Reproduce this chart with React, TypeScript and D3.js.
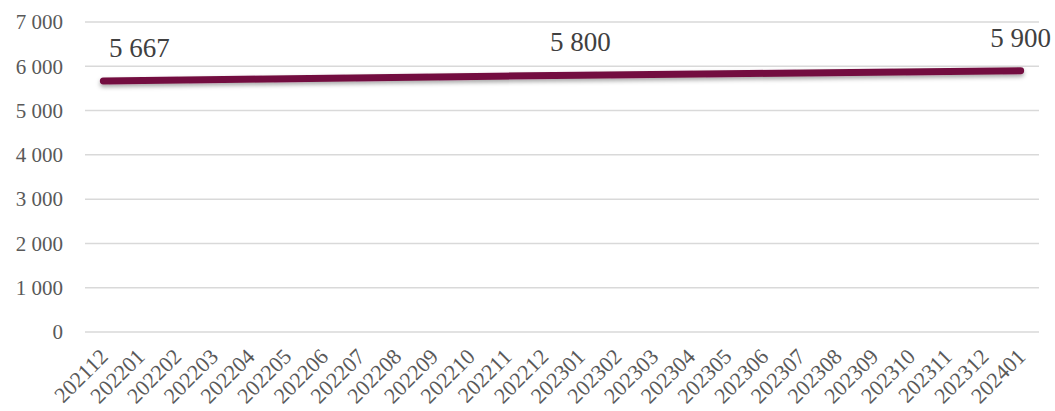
import React from "react";
import * as d3 from "d3";

const categories: string[] = [
  "202112", "202201", "202202", "202203", "202204", "202205", "202206",
  "202207", "202208", "202209", "202210", "202211", "202212", "202301",
  "202302", "202303", "202304", "202305", "202306", "202307", "202308",
  "202309", "202310", "202311", "202312", "202401",
];

// Only three months carry a value; the line connects across empty months.
const values: (number | null)[] = [
  5667, null, null, null, null, null, null, null, null, null, null, null, null,
  5800, null, null, null, null, null, null, null, null, null, null, null, 5900,
];

const yTicks: number[] = [0, 1000, 2000, 3000, 4000, 5000, 6000, 7000];

const W = 1055;
const H = 411;
const margin = { left: 85, right: 16, top: 22, bottom: 79 };
const labelShift: Record<string, number> = { "202112": 36 };

const fmt = (v: number) => d3.format(",")(v).replace(/,/g, " ");

export default function App() {
  const x = d3
    .scaleBand<string>()
    .domain(categories)
    .range([margin.left, W - margin.right]);
  const y = d3
    .scaleLinear()
    .domain([0, 7000])
    .range([H - margin.bottom, margin.top]);

  const pts = categories
    .map((c, i) => ({ c, v: values[i] }))
    .filter((d) => d.v !== null) as { c: string; v: number }[];

  const cx = (c: string) => (x(c) as number) + x.bandwidth() / 2;
  const line = d3
    .line<{ c: string; v: number }>()
    .x((d) => cx(d.c))
    .y((d) => y(d.v));

  const font = "'Liberation Serif', serif";

  return (
    <svg
      width={W}
      height={H}
      style={{ position: "absolute", left: 0, top: 0, background: "#fff" }}
    >
      <defs>
        <filter id="sh" x="-5%" y="-100%" width="110%" height="300%">
          <feDropShadow dx="0" dy="2.5" stdDeviation="2" floodColor="#000" floodOpacity="0.35" />
        </filter>
      </defs>
      {yTicks.map((t) => (
        <g key={t}>
          <line
            x1={margin.left}
            x2={W - margin.right}
            y1={y(t)}
            y2={y(t)}
            stroke="#d9d9d9"
            strokeWidth={1.5}
          />
          <text
            x={63}
            y={y(t)}
            dy="0.35em"
            textAnchor="end"
            fontFamily={font}
            fontSize={21}
            fill="#595959"
          >
            {fmt(t)}
          </text>
        </g>
      ))}
      {categories.map((c) => (
        <text
          key={c}
          transform={`translate(${cx(c) + 6},${358}) rotate(-45)`}
          textAnchor="end"
          fontFamily={font}
          fontSize={22}
          fill="#595959"
        >
          {c}
        </text>
      ))}
      <path
        d={line(pts) || ""}
        fill="none"
        stroke="#731040"
        strokeWidth={7}
        strokeLinecap="round"
        filter="url(#sh)"
      />
      {pts.map((p) => (
        <text
          key={p.c}
          x={cx(p.c) + (labelShift[p.c] || 0)}
          y={y(p.v) - 24}
          textAnchor="middle"
          fontFamily={font}
          fontSize={27}
          fill="#404040"
        >
          {fmt(p.v)}
        </text>
      ))}
    </svg>
  );
}
